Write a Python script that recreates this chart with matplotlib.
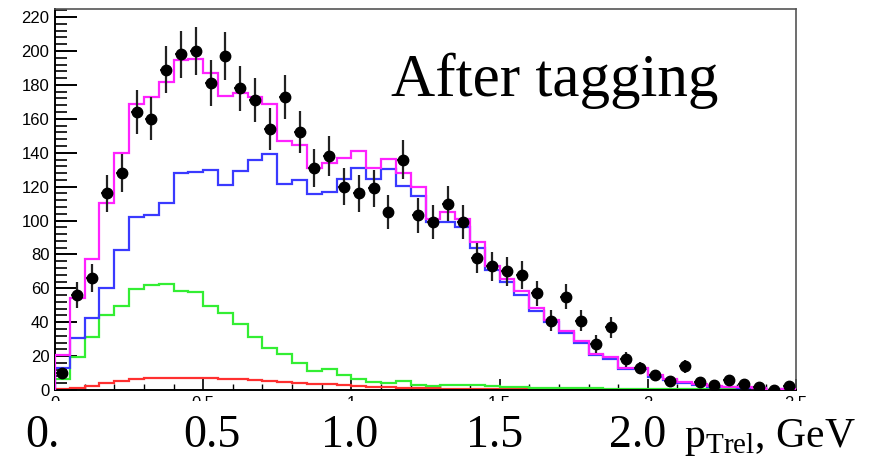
import numpy as np
import matplotlib
matplotlib.use("Agg")
import matplotlib.pyplot as plt
from matplotlib.patches import Rectangle
from matplotlib.ticker import MultipleLocator

# p_Trel histogram, 50 bins of 0.05 GeV from 0 to 2.5 GeV
bin_edges = np.linspace(0.0, 2.5, 51)
bin_centres = 0.5 * (bin_edges[:-1] + bin_edges[1:])

# measured events per bin
data_counts = [10, 56, 66, 116, 128, 164, 160, 189, 198, 200,
               181, 197, 178, 171, 154, 173, 152, 131, 138, 120,
               116, 119, 105, 136, 103, 99, 110, 99, 78, 73,
               70, 68, 57, 41, 55, 41, 27, 37, 18, 13,
               9, 5.5, 14, 4.5, 3, 6, 3.5, 1.6, 0, 2.6]

# fit total (magenta)
total_fit = [20.6, 54, 77.3, 110.5, 139.6, 169, 173, 182, 194.5, 195.3,
             187.2, 173.3, 175.2, 172.7, 168.7, 147, 144.5, 130.8, 133.7, 136.7,
             141.2, 130.8, 136.3, 127.8, 119.6, 100.7, 105.2, 100.7, 87.5, 73,
             65.5, 58.5, 48.6, 41.5, 34.7, 28.8, 21.3, 19.2, 12.8, 12.8,
             8.8, 6.5, 4.9, 3.7, 2.2, 2.0, 1.6, 1.3, 0.0, 0.8]

# main component (blue)
blue_comp = [12.8, 30.9, 42.3, 60, 82.6, 102.3, 103.2, 110.5, 127.8, 128.8,
             129.8, 121, 129.2, 135.7, 139.2, 121.7, 123.7, 115.4, 117, 124.5,
             130.8, 124.5, 130.4, 120.4, 114.6, 99.3, 99.3, 95.9, 84, 71,
             63.5, 56, 46.8, 40.3, 33.4, 27.9, 20.6, 18.3, 12.2, 12.2,
             7.9, 5.8, 4.3, 3.2, 1.8, 1.6, 1.2, 1.0, 0.0, 0.6]

# second component (green)
green_comp = [6.3, 19.3, 31.5, 44.2, 49.6, 59.4, 61.9, 62.3, 58.4, 58,
              49.8, 45.4, 39, 31, 25, 21, 16.2, 11.4, 12.4, 8.6,
              6.5, 4.9, 4.3, 5.3, 2.9, 2.6, 2.7, 2.9, 2.7, 2.3,
              2.0, 1.7, 1.3, 1.2, 1.1, 1.0, 0.9, 0.8, 0.7, 0.6,
              0.5, 0.5, 0.4, 0.4, 0.3, 0.3, 0.3, 0.2, 0.2, 0.2]

# third component (red)
red_comp = [0.3, 1, 2.5, 4, 5.5, 6.5, 7, 7.3, 7.3, 7,
            7, 6.7, 6.3, 5.8, 5.3, 4.8, 4.3, 3.8, 3.3, 2.8,
            2.4, 2.0, 1.7, 1.4, 1.2, 1.0, 0.8, 0.7, 0.6, 0.5,
            0.4, 0.35, 0.3, 0.3, 0.25, 0.2, 0.2, 0.2, 0.15, 0.15,
            0.1, 0.1, 0.1, 0.1, 0.1, 0.1, 0.1, 0.1, 0.1, 0.1]

axis_ticks = [0.0, 0.5, 1.0, 1.5, 2.0, 2.5]
axis_tick_labels = ["0", "0.5", "1", "1.5", "2", "2.5"]
x_labels = ["0.", "0.5", "1.0", "1.5", "2.0"]
x_label_pos = [42, 212, 350, 495, 638]   # pixel centres along the bottom row
axis_title = r"p$_{\mathregular{Trel}}$, GeV"
title_text = "After tagging"

W, H = 869, 458
fig = plt.figure(figsize=(W / 100, H / 100), dpi=100)
ax = fig.add_axes([55 / W, (H - 390) / H, (796 - 55) / W, (390 - 9) / H])

ax.stairs(red_comp, bin_edges, color="#ff3030", lw=1.6, zorder=2)
ax.stairs(green_comp, bin_edges, color="#33ee33", lw=1.6, zorder=2)
ax.stairs(blue_comp, bin_edges, color="#3a3aff", lw=1.6, zorder=3)
ax.stairs(total_fit, bin_edges, color="#ff22ff", lw=1.6, zorder=4)

counts = np.array(data_counts, dtype=float)
ax.errorbar(bin_centres, counts, yerr=np.sqrt(counts), xerr=0.02,
            fmt="o", ms=7.5, color="black", ecolor="#222222",
            elinewidth=1.6, capsize=0, zorder=5)

ax.set_xlim(0, 2.5)
ax.set_ylim(0, 224.8)
ax.set_xticks(axis_ticks)
ax.set_xticklabels(axis_tick_labels)
ax.xaxis.set_minor_locator(MultipleLocator(0.1))
ax.yaxis.set_major_locator(MultipleLocator(20))
ax.yaxis.set_minor_locator(MultipleLocator(4))

for lab in ax.get_yticklabels() + ax.get_xticklabels():
    lab.set_fontfamily("Liberation Sans")
    lab.set_fontsize(12)
ax.tick_params(axis="y", which="major", direction="in", length=16, width=1.4, pad=4)
ax.tick_params(axis="y", which="minor", direction="in", length=8.5, width=1.2)
ax.tick_params(axis="x", which="major", direction="in", length=8, width=1.2, pad=4)
ax.tick_params(axis="x", which="minor", direction="in", length=4, width=1.0)

for side in ("left", "bottom"):
    ax.spines[side].set_color("black")
    ax.spines[side].set_linewidth(1.4)
for side in ("top", "right"):
    ax.spines[side].set_color("#555555")
    ax.spines[side].set_linewidth(1.2)

# blank band under the axis that carries the large axis labels
fig.add_artist(Rectangle((0, 0), 1, (H - 401) / H, transform=fig.transFigure,
                         facecolor="white", edgecolor="none", zorder=5))

for lab, px in zip(x_labels, x_label_pos):
    fig.text(px / W, (H - 447) / H, lab, ha="center", va="baseline",
             fontsize=33, family="Liberation Serif", zorder=6)
fig.text(856 / W, (H - 447) / H, axis_title, ha="right", va="baseline",
         fontsize=30, family="Liberation Serif", zorder=6)

fig.text(391 / W, (H - 96) / H, title_text, ha="left", va="baseline",
         fontsize=44, family="Liberation Serif", zorder=6)

fig.savefig("out.png", dpi=100)
